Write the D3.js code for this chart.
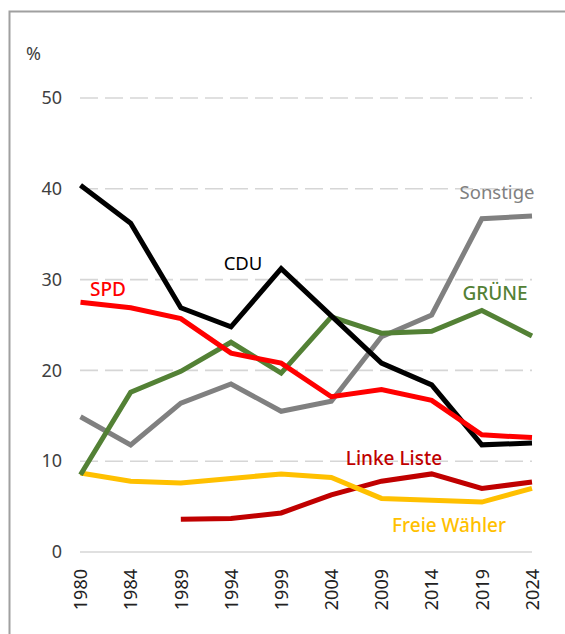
<!DOCTYPE html>
<html>
<head>
<meta charset="utf-8">
<script src="https://cdn.jsdelivr.net/npm/d3@7"></script>
<style>
  html, body { margin: 0; padding: 0; background: #fff; }
  svg { display: block; font-family: "Noto Sans", "Open Sans", sans-serif; }
</style>
</head>
<body>
<div id="chart"></div>
<script>
//****data****
const years = ["1980", "1984", "1989", "1994", "1999", "2004", "2009", "2014", "2019", "2024"];
const yTicks = [0, 10, 20, 30, 40, 50];

const cdu      = [40.4, 36.2, 26.9, 24.8, 31.2, 26.0, 20.8, 18.4, 11.8, 12.0];
const spd      = [27.5, 26.9, 25.7, 21.9, 20.8, 17.1, 17.9, 16.7, 12.9, 12.6];
const gruene   = [8.5, 17.6, 19.9, 23.1, 19.7, 25.9, 24.1, 24.3, 26.6, 23.8];
const sonstige = [14.9, 11.8, 16.4, 18.5, 15.5, 16.6, 23.7, 26.1, 36.7, 37.0];
const linke    = [null, null, 3.6, 3.7, 4.3, 6.3, 7.8, 8.6, 7.0, 7.7];
const freie    = [8.7, 7.8, 7.6, 8.1, 8.6, 8.2, 5.9, 5.7, 5.5, 7.0];

//****configuration****
const w = 565;
const h = 634;

const series = [
  { name: "Sonstige", values: sonstige, color: "#808080", lx: 497, ly: 191 },
  { name: "CDU", values: cdu, color: "#000000", lx: 243, ly: 262 },
  { name: "SPD", values: spd, color: "#ff0000", lx: 108, ly: 289 },
  { name: "GRÜNE", values: gruene, color: "#538135", lx: 495, ly: 293 },
  { name: "Linke Liste", values: linke, color: "#c00000", lx: 394, ly: 458 },
  { name: "Freie Wähler", values: freie, color: "#ffc000", lx: 449, ly: 525 }
];
// drawing order: back to front
const drawOrder = ["Linke Liste", "Freie Wähler", "Sonstige", "GRÜNE", "CDU", "SPD"];

const svg = d3.select("#chart")
  .append("svg")
  .attr("width", w)
  .attr("height", h);

// title, mostly above the visible area as in the reference
svg.append("text")
  .attr("x", 30)
  .attr("y", -1)
  .attr("fill", "#e03030")
  .attr("font-size", 20)
  .text("Stimmenanteile Gemeinderatswahlen");

// frame
svg.append("path")
  .attr("d", "M9.5," + h + "V11.5H" + (w + 2))
  .attr("fill", "none")
  .attr("stroke", "#a0a0a0")
  .attr("stroke-width", 2);

const x = d3.scalePoint().domain(years).range([80.5, 532]);
const y = d3.scaleLinear().domain([0, 50]).range([552, 98]);

// gridlines
svg.append("g")
  .selectAll("line")
  .data(yTicks)
  .join("line")
  .attr("x1", 80)
  .attr("x2", 532)
  .attr("y1", d => y(d))
  .attr("y2", d => y(d))
  .attr("stroke", "#d6d6d6")
  .attr("stroke-width", 1.6)
  .attr("stroke-dasharray", d => d === 0 ? null : "18,7");

// y axis labels
const yAxis = svg.append("g")
  .attr("transform", "translate(70,0)")
  .call(d3.axisLeft(y).tickValues(yTicks).tickSize(0).tickPadding(8));
yAxis.select(".domain").remove();
yAxis.selectAll("text")
  .attr("font-size", 18)
  .attr("fill", "#404040")
  .attr("font-family", "Noto Sans, sans-serif");

svg.append("text")
  .attr("x", 26)
  .attr("y", 60)
  .attr("font-size", 18)
  .attr("fill", "#404040")
  .text("%");

// x axis labels
const xAxis = svg.append("g")
  .attr("transform", "translate(0,552)")
  .call(d3.axisBottom(x).tickSize(0));
xAxis.select(".domain").remove();
xAxis.selectAll("text")
  .attr("font-size", 18)
  .attr("fill", "#222")
  .attr("font-family", "Noto Sans, sans-serif")
  .attr("transform", "rotate(-90)")
  .attr("text-anchor", "end")
  .attr("dy", "0.35em")
  .attr("x", -17)
  .attr("y", 0);

// lines
const line = d3.line()
  .defined(d => d !== null)
  .x((d, i) => x(years[i]))
  .y(d => y(d));

drawOrder.forEach(name => {
  const s = series.find(e => e.name === name);
  svg.append("path")
    .datum(s.values)
    .attr("d", line)
    .attr("fill", "none")
    .attr("stroke", s.color)
    .attr("stroke-width", 5)
    .attr("stroke-linejoin", "miter");
});

// series labels
svg.append("g")
  .selectAll("text")
  .data(series)
  .join("text")
  .attr("x", d => d.lx)
  .attr("y", d => d.ly)
  .attr("text-anchor", "middle")
  .attr("dominant-baseline", "central")
  .attr("font-size", d => d.name === "CDU" || d.name === "Sonstige" ? 18.5 : 19)
  .attr("font-weight", d => d.name === "CDU" || d.name === "Sonstige" ? 400 : 500)
  .attr("fill", d => d.color)
  .text(d => d.name);
</script>
</body>
</html>
